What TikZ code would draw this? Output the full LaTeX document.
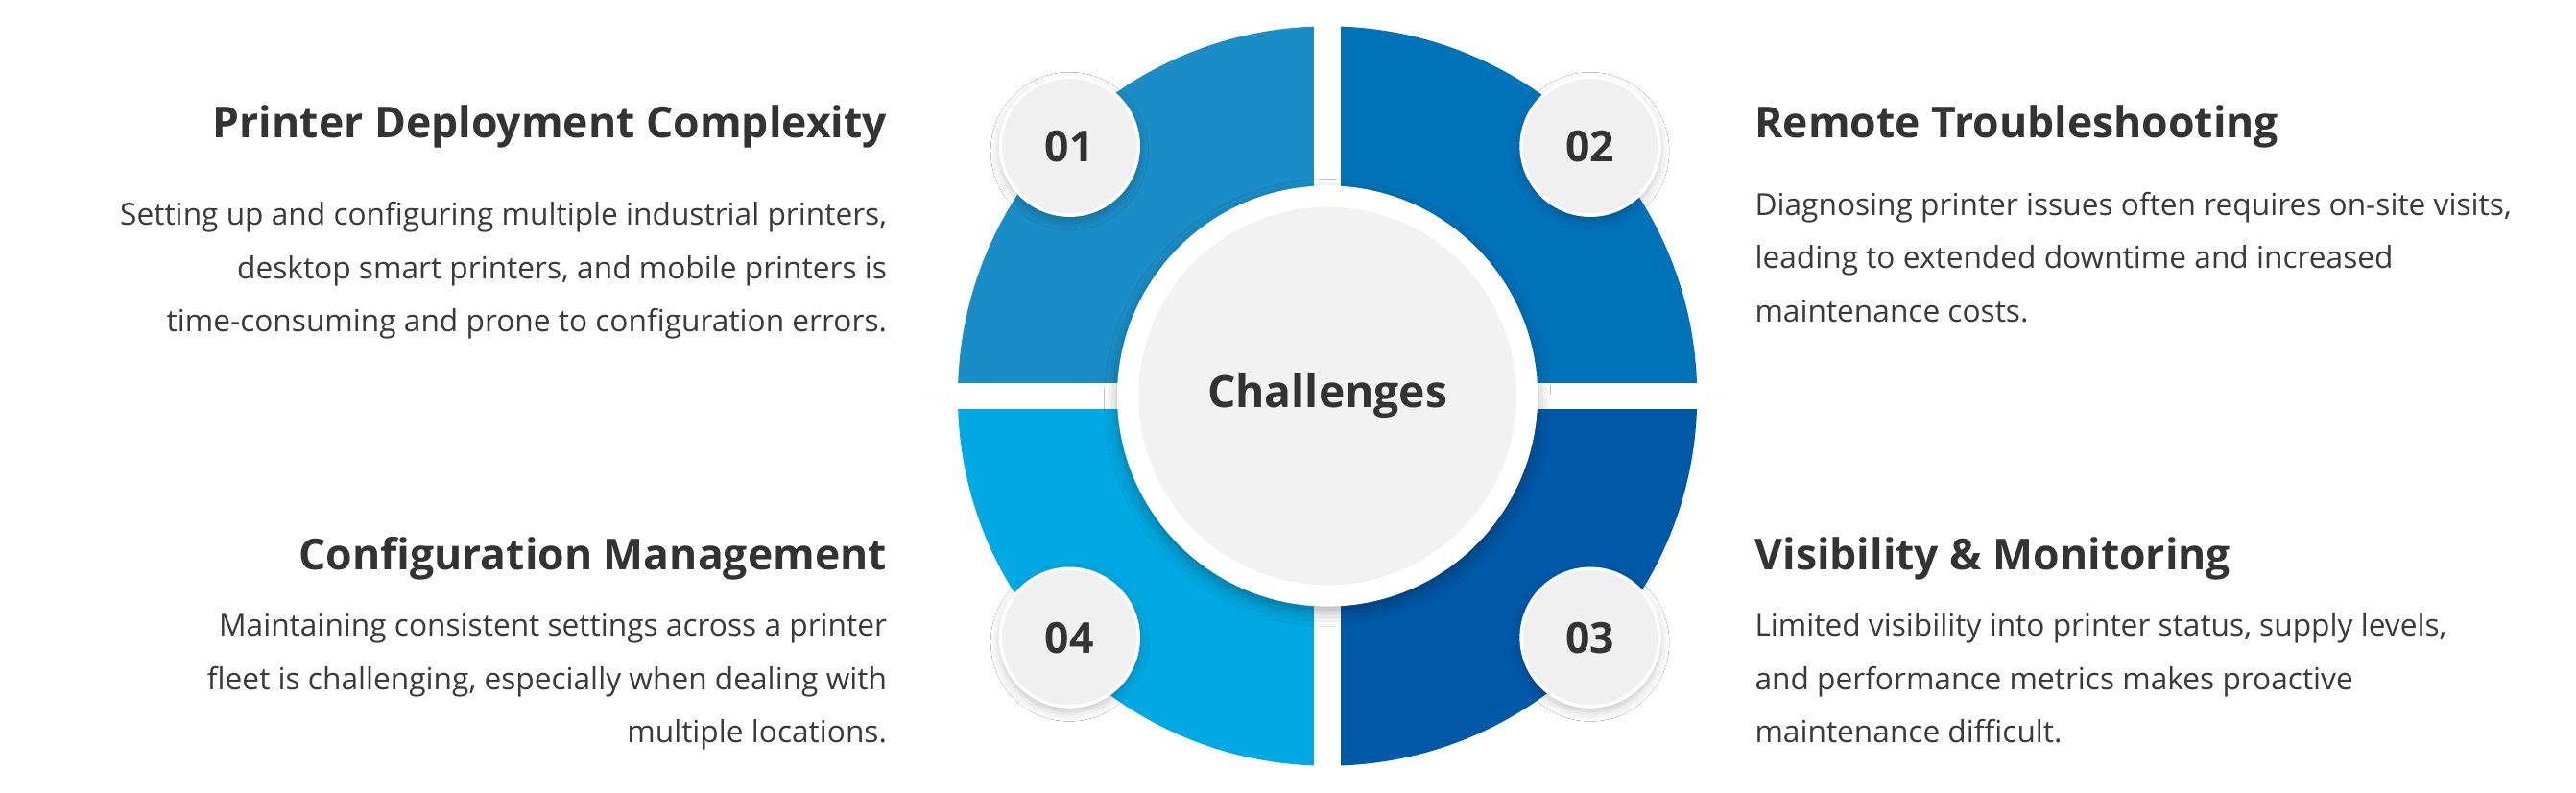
\documentclass[tikz,border=0pt]{standalone}
\usepackage{fontspec}
\setmainfont{Open Sans}
\usetikzlibrary{shadows.blur}
\definecolor{qa}{HTML}{1A8DC6}
\definecolor{qb}{HTML}{0072BA}
\definecolor{qc}{HTML}{0058A9}
\definecolor{qd}{HTML}{00A9E3}
\definecolor{txt}{HTML}{333333}
\definecolor{bodyc}{HTML}{3A3A3A}
\begin{document}
\begin{tikzpicture}[x=1pt,y=1pt,
  title/.style={font=\fontsize{26}{30}\selectfont\bfseries, text=txt, inner sep=0pt},
  body/.style={font=\fontsize{18.5}{22}\selectfont, text=bodyc, inner sep=0pt},
  num/.style={circle, minimum size=84pt, fill=white!94!black, draw=white, line width=2pt,
     blur shadow={shadow xshift=0pt, shadow yshift=-3pt, shadow blur radius=6pt, shadow opacity=25},
     font=\fontsize{26}{30}\selectfont\bfseries, text=txt}]
\useasboundingbox (0,0) rectangle (1568,482);
\fill[white] (0,0) rectangle (1568,482);
\coordinate (c) at (808,241);
% faint horizontal line
\fill[left color=white, right color=black!8] (555,238) rectangle (808,244);
\fill[right color=white, left color=black!8] (808,238) rectangle (1060,244);
% quadrants
\fill[qa] (c) -- ++(-225,0) arc[start angle=180,end angle=90,radius=225] -- cycle;
\fill[qb] (c) -- ++(0,225) arc[start angle=90,end angle=0,radius=225] -- cycle;
\fill[qc] (c) -- ++(225,0) arc[start angle=0,end angle=-90,radius=225] -- cycle;
\fill[qd] (c) -- ++(0,-225) arc[start angle=270,end angle=180,radius=225] -- cycle;
\draw[white, line width=16pt] (808,10) -- (808,475);
\draw[white, line width=16pt] (578,241) -- (1038,241);
% centre
\node[circle, minimum size=256pt, fill=white, inner sep=0pt,
  blur shadow={shadow xshift=0pt, shadow yshift=-4pt, shadow blur radius=8pt, shadow opacity=30}] (ring) at (c) {};
\node[circle, minimum size=230pt, fill=white!95!black, inner sep=0pt,
  font=\fontsize{27}{30}\selectfont\bfseries, text=txt] (centre) at (c) {Challenges};
% numbers
\node[num] (n1) at (651,393) {01};
\node[num] (n2) at (968,393) {02};
\node[num] (n3) at (968,94) {03};
\node[num] (n4) at (651,94) {04};
% texts
\node[title, anchor=base east] (t1) at (540,398) {Printer Deployment Complexity};
\node[body, anchor=base east] (b1a) at (540,345) {Setting up and configuring multiple industrial printers,};
\node[body, anchor=base east] (b1b) at (540,312.5) {desktop smart printers, and mobile printers is};
\node[body, anchor=base east] (b1c) at (540,280) {time-consuming and prone to configuration errors.};
\node[title, anchor=base west] (t2) at (1068,398) {Remote Troubleshooting};
\node[body, anchor=base west] (b2a) at (1068,351) {Diagnosing printer issues often requires on-site visits,};
\node[body, anchor=base west] (b2b) at (1068,318.5) {leading to extended downtime and increased};
\node[body, anchor=base west] (b2c) at (1068,286) {maintenance costs.};
\node[title, anchor=base east] (t4) at (540,135) {Configuration Management};
\node[body, anchor=base east] (b4a) at (540,95) {Maintaining consistent settings across a printer};
\node[body, anchor=base east] (b4b) at (540,62.5) {fleet is challenging, especially when dealing with};
\node[body, anchor=base east] (b4c) at (540,30) {multiple locations.};
\node[title, anchor=base west] (t3) at (1068,135) {Visibility \& Monitoring};
\node[body, anchor=base west] (b3a) at (1068,95) {Limited visibility into printer status, supply levels,};
\node[body, anchor=base west] (b3b) at (1068,62.5) {and performance metrics makes proactive};
\node[body, anchor=base west] (b3c) at (1068,30) {maintenance difficult.};
\end{tikzpicture}
\end{document}
